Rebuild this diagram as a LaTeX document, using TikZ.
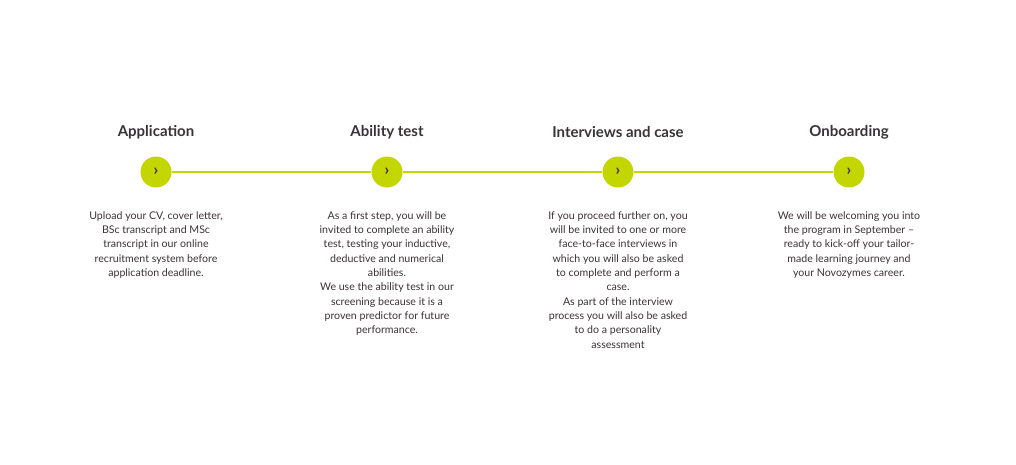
\documentclass[tikz,border=0pt]{standalone}
\usepackage{fontspec}
\setmainfont{Lato}
\definecolor{lime}{HTML}{C4D600}
\definecolor{txt}{HTML}{3A3236}
\begin{document}
\begin{tikzpicture}[x=1pt,y=-1pt,
  dot/.style={circle,fill=lime,minimum size=31pt,inner sep=0pt,text=txt,font=\bfseries\fontsize{16}{16}\selectfont},
  ttl/.style={text=txt,font=\bfseries\fontsize{15}{18}\selectfont},
  body/.style={text=txt,align=center,anchor=north,font=\fontsize{10.6}{14.3}\selectfont}]
\useasboundingbox (0,0) rectangle (1016,464);
\foreach \n/\x in {a/156,b/387,c/618,d/849}{\node[dot] (\n) at (\x,172) {›};}
\draw[lime,line width=1.3pt] (a) -- (b) (b) -- (c) (c) -- (d);
\node[ttl] (ta) at (156,132) {Application};
\node[ttl] (tb) at (387,132) {Ability test};
\node[ttl] (tc) at (618,132) {Interviews and case};
\node[ttl] (td) at (849,132) {Onboarding};
\node[body] (ba) at (156,208) {Upload your CV, cover letter,\\BSc transcript and MSc\\transcript in our online\\recruitment system before\\application deadline.};
\node[body] (bb) at (387,208) {As a first step, you will be\\invited to complete an ability\\test, testing your inductive,\\deductive and numerical\\abilities.\\We use the ability test in our\\screening because it is a\\proven predictor for future\\performance.};
\node[body] (bc) at (618,208) {If you proceed further on, you\\will be invited to one or more\\face-to-face interviews in\\which you will also be asked\\to complete and perform a\\case.\\As part of the interview\\process you will also be asked\\to do a personality\\assessment};
\node[body] (bd) at (849,208) {We will be welcoming you into\\the program in September --\\ready to kick-off your tailor-\\made learning journey and\\your Novozymes career.};
\end{tikzpicture}
\end{document}
